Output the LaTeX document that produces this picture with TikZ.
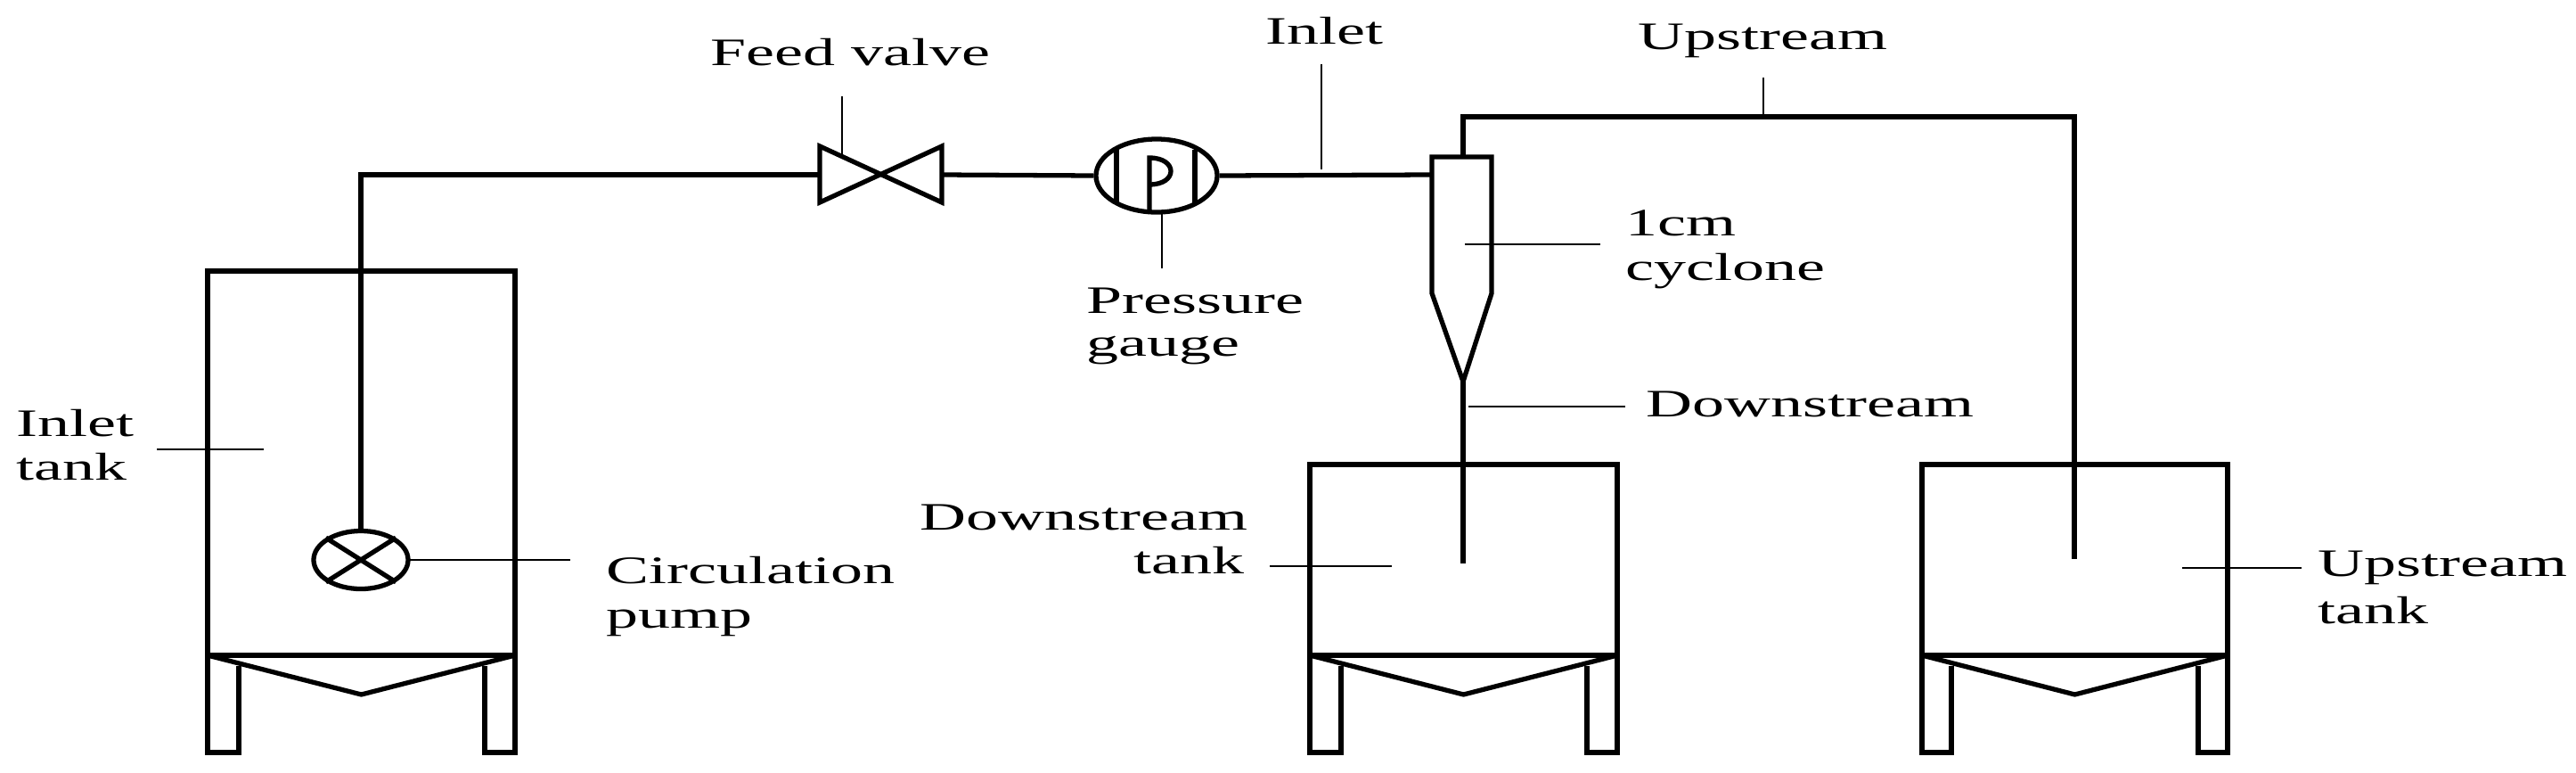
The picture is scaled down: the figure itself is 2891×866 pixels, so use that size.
\documentclass[tikz,border=0pt]{standalone}
\usepackage{fontspec}
\setmainfont{Liberation Serif}[FakeStretch=1.65]
\usetikzlibrary{positioning, shapes.geometric}
\tikzset{Pipe/.style={%
    line width=1.5pt,%
}}
\tikzset{Leader/.style={%
    line width=0.8pt,%
}}
\tikzset{Label/.style={%
    font=\fontsize{12.4}{14}\selectfont,%
    inner sep=0pt,%
    anchor=base west,%
}}
\NewDocumentCommand{\tankShape}{m m m m m}{%
    % #1 left x, #2 right x, #3 top y, #4/#5 inner leg x
    \draw[Pipe] (#1,735) -- (#1,#3) -- (#2,#3) -- (#2,735) -- cycle;
    \draw[Pipe] (#1,735) -- ({(#1+#2)/2},779) -- (#2,735);
    \draw[Pipe] (#1,735) -- (#1,844) -- (#4,844) -- (#4,747);
    \draw[Pipe] (#2,735) -- (#2,844) -- (#5,844) -- (#5,747);
}

\begin{document}
\begin{tikzpicture}[x=0.01cm,y=-0.01cm]
    \useasboundingbox (0,0) rectangle (2891,866);

    % tanks
    \tankShape{233}{578}{304}{268}{544}
    \tankShape{1470}{1815}{521}{1505}{1781}
    \tankShape{2157}{2500}{521}{2190}{2467}

    % pump, valve, gauge
    \node[draw, ellipse, line width=1.5pt, minimum width=1.06cm, minimum height=0.65cm, inner sep=0pt] (pump) at (405,628) {};
    \draw[Pipe] (pump.north east) -- (pump.south west);
    \draw[Pipe] (pump.north west) -- (pump.south east);
    \coordinate (vl) at (920,196);
    \coordinate (vr) at (1057,196);
    \draw[Pipe] (920,164) -- (1057,227) -- (1057,164) -- (920,227) -- cycle;
    \node[draw, ellipse, line width=1.5pt, minimum width=1.36cm, minimum height=0.82cm, inner sep=0pt] (gauge) at (1298,197) {};
    \draw[Pipe] (1253,168) -- (1253,229);
    \draw[Pipe] (1341,168) -- (1341,229);
    \draw[Pipe] (1290,239) -- (1290,177) .. controls (1322,177) and (1322,207) .. (1290,207);

    % cyclone
    \coordinate (cyc) at (1642,176);
    \draw[Pipe] (1607,176) -- (1674,176) -- (1674,329) -- (1642,428) -- (1607,329) -- cycle;

    % piping
    \draw[Pipe] (pump.north) -- (405,196) -- (vl);
    \draw[Pipe] (vr) -- (gauge.west);
    \draw[Pipe] (gauge.east) -- (1607,196);
    \draw[Pipe] (cyc) -- (1642,131) -- (2328,131) -- (2328,627);
    \draw[Pipe] (1642,428) -- (1642,632);

    % labels
    \node[Label] (lvalve) at (797,73) {Feed valve};
    \draw[Leader] (945,108) -- (945,174);
    \node[Label] (linlet) at (1420,49) {Inlet};
    \draw[Leader] (1483,72) -- (1483,190);
    \node[Label] (lup) at (1838,55) {Upstream};
    \draw[Leader] (1979,87) -- (1979,131);
    \node[Label] (lcyc1) at (1824,264) {1cm};
    \node[Label] (lcyc2) at (1824,314) {cyclone};
    \draw[Leader] (1644,274) -- (1796,274);
    \node[Label] (ldown) at (1847,467) {Downstream};
    \draw[Leader] (1648,456) -- (1824,456);
    \node[Label] (lgauge1) at (1219,351) {Pressure};
    \node[Label] (lgauge2) at (1219,399) {gauge};
    \draw[Leader] (1304,239) -- (1304,301);
    \node[Label] (ltank1) at (18,489) {Inlet};
    \node[Label] (ltank2) at (18,538) {tank};
    \draw[Leader] (176,504) -- (296,504);
    \node[Label] (lpump1) at (680,654) {Circulation};
    \node[Label] (lpump2) at (680,704) {pump};
    \draw[Leader] (458,628) -- (640,628);
    \node[Label, anchor=base east] (ldtank1) at (1401,594) {Downstream};
    \node[Label, anchor=base east] (ldtank2) at (1397,643) {tank};
    \draw[Leader] (1425,635) -- (1562,635);
    \node[Label] (lutank1) at (2601,646) {Upstream};
    \node[Label] (lutank2) at (2601,699) {tank};
    \draw[Leader] (2449,637) -- (2583,637);
\end{tikzpicture}
\end{document}
